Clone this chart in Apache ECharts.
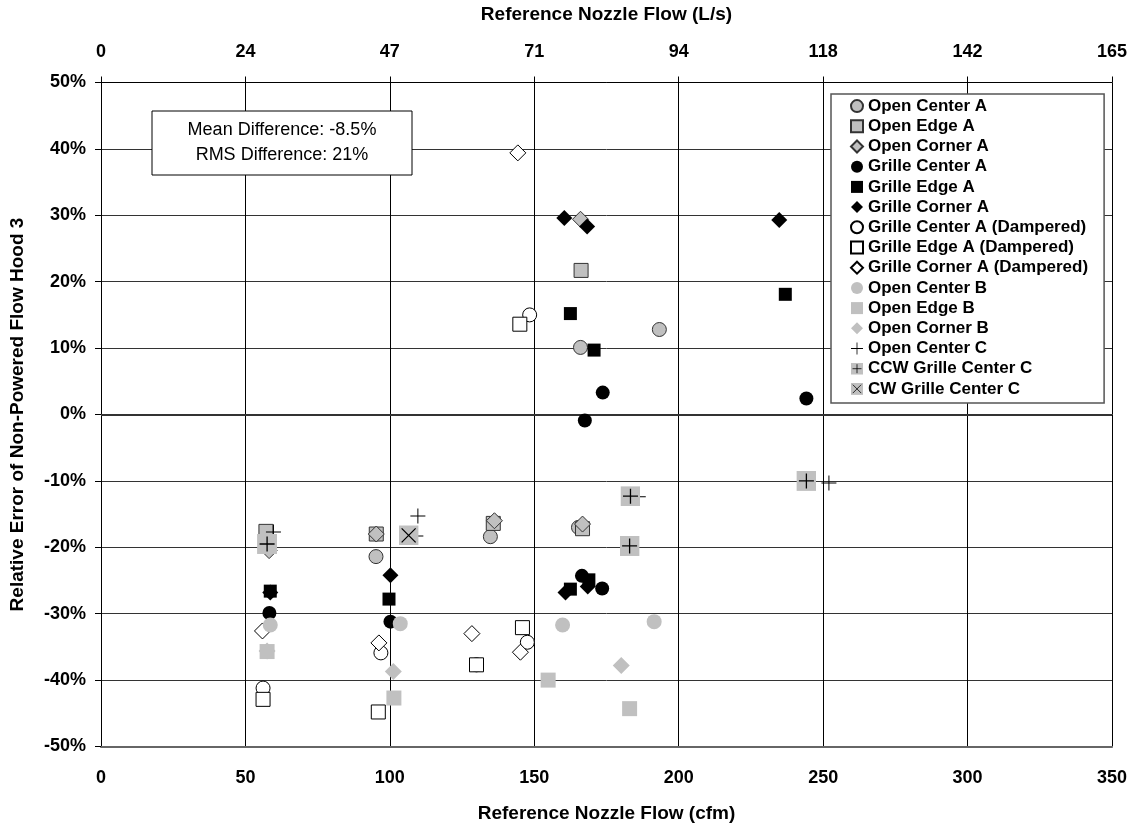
<!DOCTYPE html>
<html><head><meta charset="utf-8">
<script src="https://cdn.jsdelivr.net/npm/echarts@6/dist/echarts.min.js"></script>
<style>html,body{margin:0;padding:0;background:#fff}#chart{width:1133px;height:828px}</style>
</head><body><div id="chart"></div>
<script>
// ---- data (x = reference nozzle flow, cfm; y = relative error, %) ----
const openCenterA   = [[166,10.1],[193.3,12.8],[95.2,-21.4],[134.8,-18.4],[165.3,-17.0]];
const openEdgeA     = [[166.2,21.7],[57.1,-17.6],[95.3,-18.0],[135.8,-16.4],[166.7,-17.2]];
const openCornerA   = [[166,29.4],[58.2,-20.5],[95.3,-18.0],[136.2,-16.0],[166.7,-16.5]];
const grilleCenterA = [[173.7,3.3],[167.5,-0.9],[244.2,2.4],[58.3,-29.9],[100.2,-31.2],[166.5,-24.3],[173.5,-26.2]];
const grilleEdgeA   = [[162.5,15.2],[170.7,9.7],[236.9,18.1],[58.6,-26.6],[99.7,-27.8],[162.5,-26.3],[168.9,-24.9]];
const grilleCornerA = [[160.4,29.6],[168.3,28.3],[234.8,29.3],[58.6,-26.8],[100.2,-24.2],[160.8,-26.8],[168.5,-25.9]];
const grilleCenterAD = [[148.4,15.0],[56.1,-41.2],[96.9,-35.9],[130,-37.7],[147.6,-34.3]];
const grilleEdgeAD   = [[145,13.6],[56.1,-42.9],[96,-44.8],[130,-37.7],[145.9,-32.1]];
const grilleCornerAD = [[144.3,39.4],[55.9,-32.6],[96.2,-34.4],[128.4,-33.0],[145.2,-35.8]];
const openCenterB   = [[58.6,-31.7],[103.6,-31.5],[159.8,-31.7],[191.5,-31.2]];
const openEdgeB     = [[57.5,-35.7],[101.4,-42.7],[154.8,-40.0],[183,-44.3]];
const openCornerB   = [[57.5,-35.6],[101.2,-38.7],[180.1,-37.8]];
const openCenterC   = [[59.7,-17.7],[109.7,-15.3],[109.0,-18.3],[186,-12.4],[252,-10.3]];
const ccwGrilleCenterC = [[57.5,-19.5],[183.3,-12.3],[183,-19.8],[244.2,-10.0]];
const cwGrilleCenterC  = [[106.5,-18.2]];

const seriesNames = ['Open Center A','Open Edge A','Open Corner A','Grille Center A','Grille Edge A','Grille Corner A',
  'Grille Center A (Dampered)','Grille Edge A (Dampered)','Grille Corner A (Dampered)',
  'Open Center B','Open Edge B','Open Corner B','Open Center C','CCW Grille Center C','CW Grille Center C'];

const xTicksCfm = [0,50,100,150,200,250,300,350];
const topTickLabels = ['0','24','47','71','94','118','142','165'];
const annotationLines = ['Mean Difference: -8.5%','RMS Difference: 21%'];
const titleTop = 'Reference Nozzle Flow (L/s)';
const titleBottom = 'Reference Nozzle Flow (cfm)';
const titleY = 'Relative Error of Non-Powered Flow Hood 3';

// ---- styling ----
const FONT = '"Liberation Sans", Arial, Helvetica, sans-serif';
const GRAY = '#c0c0c0';
const svgUri = s => 'image://data:image/svg+xml;charset=utf-8,' + encodeURIComponent(s);
const ccwIcon = svgUri('<svg xmlns="http://www.w3.org/2000/svg" width="20" height="20" viewBox="0 0 20 20"><rect width="20" height="20" fill="#c0c0c0"/><path d="M10 2.5V17.5M2.5 10H17.5" stroke="#000" stroke-width="1.3" fill="none"/></svg>');
const cwIcon = svgUri('<svg xmlns="http://www.w3.org/2000/svg" width="20" height="20" viewBox="0 0 20 20"><rect width="20" height="20" fill="#c0c0c0"/><path d="M3 3L17 17M17 3L3 17" stroke="#000" stroke-width="1.3" fill="none"/></svg>');
const plusPath = 'path://M7,0H8V7H15V8H8V15H7V8H0V7H7Z';

const styles = [
  {symbol:'circle', size:14, fill:GRAY, stroke:'#333', bw:1},
  {symbol:'rect', size:14, fill:GRAY, stroke:'#333', bw:1},
  {symbol:'diamond', size:16, fill:GRAY, stroke:'#333', bw:1},
  {symbol:'circle', size:14, fill:'#000', stroke:'#000', bw:0},
  {symbol:'rect', size:13, fill:'#000', stroke:'#000', bw:0},
  {symbol:'diamond', size:16, fill:'#000', stroke:'#000', bw:0},
  {symbol:'circle', size:14, fill:'#fff', stroke:'#000', bw:1},
  {symbol:'rect', size:14, fill:'#fff', stroke:'#000', bw:1},
  {symbol:'diamond', size:16, fill:'#fff', stroke:'#000', bw:1},
  {symbol:'circle', size:15, fill:GRAY, stroke:GRAY, bw:0},
  {symbol:'rect', size:15, fill:GRAY, stroke:GRAY, bw:0},
  {symbol:'diamond', size:17, fill:GRAY, stroke:GRAY, bw:0},
  {symbol:plusPath, size:15, fill:'#000', stroke:'#000', bw:0},
  {symbol:ccwIcon, size:20, fill:GRAY, stroke:GRAY, bw:0},
  {symbol:cwIcon, size:20, fill:GRAY, stroke:GRAY, bw:0}
];
const datasets = [openCenterA, openEdgeA, openCornerA, grilleCenterA, grilleEdgeA, grilleCornerA,
  grilleCenterAD, grilleEdgeAD, grilleCornerAD, openCenterB, openEdgeB, openCornerB,
  openCenterC, ccwGrilleCenterC, cwGrilleCenterC];

const series = [{
  type:'scatter', name:'_zero', data:[], z:1, silent:true,
  markLine:{silent:true, symbol:'none', label:{show:false}, animation:false,
    lineStyle:{color:'#333', width:2, type:'solid'}, data:[{yAxis:0}]}
}];
seriesNames.forEach((n,i)=>{
  const st = styles[i];
  series.push({
    type:'scatter', name:n, data:datasets[i], xAxisIndex:0, yAxisIndex:0,
    symbol:st.symbol, symbolSize:st.size, z:2+i,
    itemStyle:{color:st.fill, borderColor:st.stroke, borderWidth:st.bw, opacity:1},
    emphasis:{disabled:true}
  });
});

const chart = echarts.init(document.getElementById('chart'), null, {renderer:'canvas'});
const axisLabelStyle = {fontFamily:FONT, fontWeight:'bold', fontSize:18, color:'#000'};
const nameStyle = {fontFamily:FONT, fontWeight:'bold', fontSize:19, color:'#000'};

chart.setOption({
  animation:false,
  backgroundColor:'#fff',
  grid:{left:101, right:21, top:82, bottom:80, containLabel:false},
  xAxis:[{
    type:'value', position:'bottom', min:0, max:350, interval:50,
    name:titleBottom, nameLocation:'middle', nameGap:57.5, nameTextStyle:nameStyle,
    axisLine:{show:true, onZero:false, lineStyle:{color:'#666', width:2}},
    axisTick:{show:false},
    axisLabel:Object.assign({margin:22.5}, axisLabelStyle),
    splitLine:{show:true, lineStyle:{color:'#000', width:1}}
  },{
    type:'value', position:'top', min:0, max:350, interval:50,
    name:titleTop, nameLocation:'middle', nameGap:58.5, nameTextStyle:nameStyle,
    axisLine:{show:true, onZero:false, lineStyle:{color:'#000', width:1}},
    axisTick:{show:true, inside:false, length:6, lineStyle:{color:'#000'}},
    axisLabel:Object.assign({margin:21.5, formatter:v=>topTickLabels[xTicksCfm.indexOf(v)]}, axisLabelStyle),
    splitLine:{show:false}
  }],
  yAxis:[{
    type:'value', min:-50, max:50, interval:10,
    name:titleY, nameLocation:'middle', nameGap:73.5, nameRotate:90, nameTextStyle:nameStyle,
    axisLine:{show:true, onZero:false, lineStyle:{color:'#000', width:1}},
    axisTick:{show:true, inside:false, length:6, lineStyle:{color:'#000'}},
    axisLabel:Object.assign({margin:15, formatter:v=>v+'%'}, axisLabelStyle),
    splitLine:{show:true, lineStyle:{color:'#333', width:1}}
  }],
  legend:{
    orient:'vertical', left:831, top:94, padding:[2,16,4,19],
    itemWidth:12, itemHeight:12, itemGap:0, selectedMode:false,
    backgroundColor:'#fff', borderColor:'#555', borderWidth:1.5,
    textStyle:{fontFamily:FONT, fontWeight:'bold', fontSize:17, color:'#000', lineHeight:20.2},
    data:seriesNames.map((n,i)=>({name:n}))
  },
  graphic:[
    {type:'rect', z:100, shape:{x:152, y:111, width:260, height:64},
      style:{fill:'#fff', stroke:'#000', lineWidth:1}},
    {type:'text', z:101, x:282, y:143,
      style:{text:annotationLines.join('\n'), fontFamily:FONT, fontSize:18, fill:'#000',
        align:'center', verticalAlign:'middle', lineHeight:25}}
  ],
  series:series
});
</script>
</body></html>
